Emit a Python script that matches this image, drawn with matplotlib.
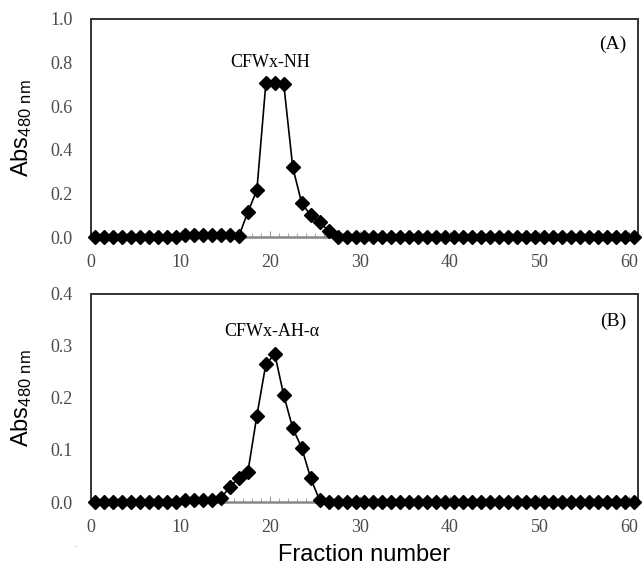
import numpy as np
import matplotlib.pyplot as plt

plt.rcParams['mathtext.default'] = 'regular'

# fraction numbers (markers sit at the half positions)
fractions = np.arange(0.5, 61, 1.0)

# panel A: CFWx-NH
abs_a = [0.0] * 10 + [0.01] * 6 + [0.005,
         0.115, 0.215, 0.705, 0.705, 0.70, 0.32, 0.155, 0.10, 0.068, 0.028] + [0.0] * 34

# panel B: CFWx-AH-alpha
abs_b = [0.0] * 10 + [0.004] * 4 + [0.008, 0.029, 0.046, 0.058, 0.166, 0.265,
         0.284, 0.205, 0.142, 0.104, 0.046] + [0.003] + [0.0] * 35

x_ticks = [0, 10, 20, 30, 40, 50, 60]
yticks_a = [0.0, 0.2, 0.4, 0.6, 0.8, 1.0]
yticks_b = [0.0, 0.1, 0.2, 0.3, 0.4]

fig = plt.figure(figsize=(6.43, 5.67), dpi=100)
ax1 = fig.add_axes([0.1415, 0.582, 0.8507, 0.3845])
ax2 = fig.add_axes([0.1415, 0.1146, 0.8507, 0.367])

serif = 'Liberation Serif'
sans = 'Liberation Sans'

def style(ax, yticks):
    ax.set_xlim(0, 61)
    ax.set_ylim(yticks[0], yticks[-1])
    ax.set_xticks(x_ticks)
    ax.set_xticks(np.arange(0, 61, 1), minor=True)
    ax.set_yticks(yticks)
    ax.set_yticklabels(['%.1f' % v for v in yticks])
    ax.tick_params(axis='x', which='major', direction='in', length=4, color='#999999',
                   labelsize=13, labelcolor='#4a4a4a', pad=12)
    ax.tick_params(axis='x', which='minor', direction='in', length=3, color='#999999')
    ax.tick_params(axis='y', direction='in', length=0, labelsize=13,
                   labelcolor='#4a4a4a', pad=13)
    for lab in ax.get_xticklabels() + ax.get_yticklabels():
        lab.set_family(serif)
    for s in ['left', 'top', 'right']:
        ax.spines[s].set_color('#333333')
        ax.spines[s].set_linewidth(1.4)
    ax.spines['bottom'].set_color('#888888')
    ax.spines['bottom'].set_linewidth(1.8)
    ax.set_ylabel('Abs$_{480\\ nm}$', fontsize=17, family=sans, labelpad=12)

ax1.plot(fractions, abs_a, '-D', color='black', lw=1.2, ms=7.2, clip_on=False, zorder=3)
style(ax1, yticks_a)
ax1.text(20, 0.80, 'CFWx-NH', ha='center', va='center', fontsize=13, family=serif)
ax1.text(0.978, 0.925, '(A)', transform=ax1.transAxes, ha='right', va='top',
         fontsize=14, family=serif)

ax2.plot(fractions, abs_b, '-D', color='black', lw=1.2, ms=7.2, clip_on=False, zorder=3)
style(ax2, yticks_b)
ax2.text(20.2, 0.327, 'CFWx-AH-α', ha='center', va='center', fontsize=13, family=serif)
ax2.text(0.978, 0.91, '(B)', transform=ax2.transAxes, ha='right', va='top',
         fontsize=14, family=serif)
ax2.set_xlabel('Fraction number', fontsize=17, family=sans, labelpad=6)

fig.text(0.115, 0.035, '.', fontsize=8, color='#999999')

fig.savefig('out.png', dpi=100)
